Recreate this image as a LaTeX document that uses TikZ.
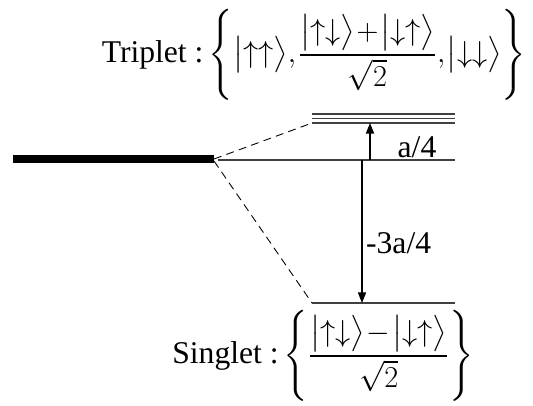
\documentclass[tikz,border=0pt]{standalone}
\usepackage{amsmath}
\usepackage{fontspec}
\setmainfont{Liberation Serif}
\usetikzlibrary{arrows.meta, positioning, calc}
\tikzstyle{level}=[draw=black!75, line width=0.6pt]
\tikzstyle{ground}=[line width=4.2pt]
\tikzstyle{split}=[line width=0.5pt, dash pattern=on 4.5pt off 3pt]
\tikzstyle{arrow}=[line width=0.7pt, -{Triangle[length=6pt, width=4.6pt]}]
\tikzstyle{gaptext}=[font=\fontsize{18}{22}\selectfont, inner sep=2pt]
\tikzstyle{statetext}=[font=\fontsize{18}{22}\selectfont, inner sep=0pt]
\newcommand{\tightmath}{\medmuskip=1mu\relax\thinmuskip=1mu\relax}

\begin{document}
\begin{tikzpicture}[x=0.02cm, y=-0.02cm]
    \useasboundingbox (0,0) rectangle (533,405);

    % levels
    \coordinate (g0) at (13,159);
    \coordinate (g1) at (214,159);
    \coordinate (m0) at (218,160);
    \coordinate (m1) at (455,160);
    \coordinate (t0) at (312,123);
    \coordinate (t1) at (455,123);
    \coordinate (s0) at (312,303);
    \coordinate (s1) at (455,303);

    \draw[ground] (g0) -- (g1);
    \draw[level] (m0) -- (m1);
    \draw[level] (t0) -- (t1);
    \draw[level] ($(t0)+(0,-4.5)$) -- ($(t1)+(0,-4.5)$);
    \draw[level] ($(t0)+(0,-9)$) -- ($(t1)+(0,-9)$);
    \draw[level] (s0) -- (s1);

    \draw[split] (g1) -- (t0);
    \draw[split] ($(g1)+(0,2)$) -- (s0);

    % gaps
    \coordinate (up0) at (370,160);
    \coordinate (up1) at (370,123);
    \coordinate (dn0) at (362,160);
    \coordinate (dn1) at (362,303);
    \draw[arrow] (up0) -- (up1);
    \draw[arrow] (dn0) -- node[gaptext, right, pos=0.58] {-3a/4} (dn1);
    \node[gaptext] (quarter) at (417,147) {a/4};

    % states
    \node[statetext] (triplet) at (314,55) {Triplet :\,$\tightmath\left\{\bigl|\uparrow\uparrow\bigr\rangle,
        \dfrac{\tightmath\bigl|\uparrow\downarrow\bigr\rangle+\bigl|\downarrow\uparrow\bigr\rangle}{\sqrt{2}},
        \bigl|\downarrow\downarrow\bigr\rangle\right\}$};
    \node[statetext] (singlet) at (323,356) {Singlet :\,$\tightmath\left\{
        \dfrac{\tightmath\bigl|\uparrow\downarrow\bigr\rangle-\bigl|\downarrow\uparrow\bigr\rangle}{\sqrt{2}}\right\}$};
\end{tikzpicture}
\end{document}
